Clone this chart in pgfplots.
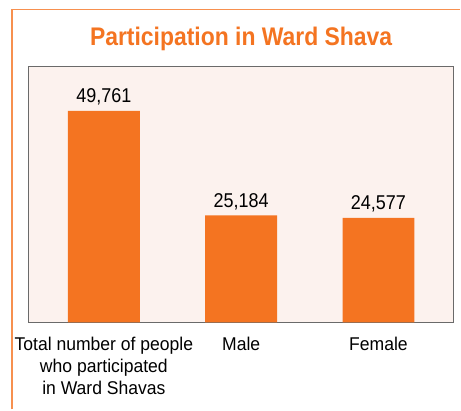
\documentclass[border=0pt]{standalone}
\usepackage{pgfplots}
\pgfplotsset{compat=1.18}
\usepackage{fontspec}
\setmainfont{Liberation Sans}[FakeStretch=0.9]
\newfontfamily\tickfont{Liberation Sans}[FakeStretch=0.95]
\definecolor{barorange}{HTML}{F47421}
\definecolor{frameorange}{HTML}{F7904F}
\definecolor{axisbg}{HTML}{FCF2EE}
\definecolor{boxgray}{HTML}{6A6A6A}
\begin{document}
\begin{tikzpicture}[x=1pt,y=1pt]
\fill[white] (0,0) rectangle (461,410);
\draw[frameorange, line width=1.5pt] (12,0) -- (12,400.5) -- (461,400.5);
\node[anchor=base, text=barorange, font=\bfseries\fontsize{25.5}{30}\selectfont] at (241.5,364.3) {Participation in Ward Shava};
\begin{axis}[
  at={(28.7pt,87pt)}, anchor=south west,
  scale only axis, width=425.3pt, height=256pt,
  axis background/.style={fill=axisbg},
  axis line style={boxgray, line width=0.9pt},
  ybar, bar width=72pt,
  ymin=0, ymax=60090,
  xmin=-0.548, xmax=2.545,
  xtick=data,
  xticklabels={{Total number of people\\who participated\\in Ward Shavas},{Male},{Female}},
  major tick length=0pt,
  ytick=\empty,
  /pgf/number format/assume math mode=true,
  xticklabel style={align=center, anchor=north, inner sep=0pt, yshift=-14pt, font=\tickfont\fontsize{18.5}{22.5}\selectfont, text=black},
  nodes near coords={\pgfmathprintnumber[fixed, assume math mode=true, 1000 sep={,}]{\pgfplotspointmeta}},
  nodes near coords style={anchor=base, yshift=8.3pt, inner sep=0pt, font=\fontsize{20}{24}\selectfont, text=black},
  point meta=explicit,
]
\addplot[fill=barorange, draw=none] coordinates {(0,49761) [49761] (1,25184) [25184] (2,24577) [24577]};
\end{axis}
\end{tikzpicture}
\end{document}
